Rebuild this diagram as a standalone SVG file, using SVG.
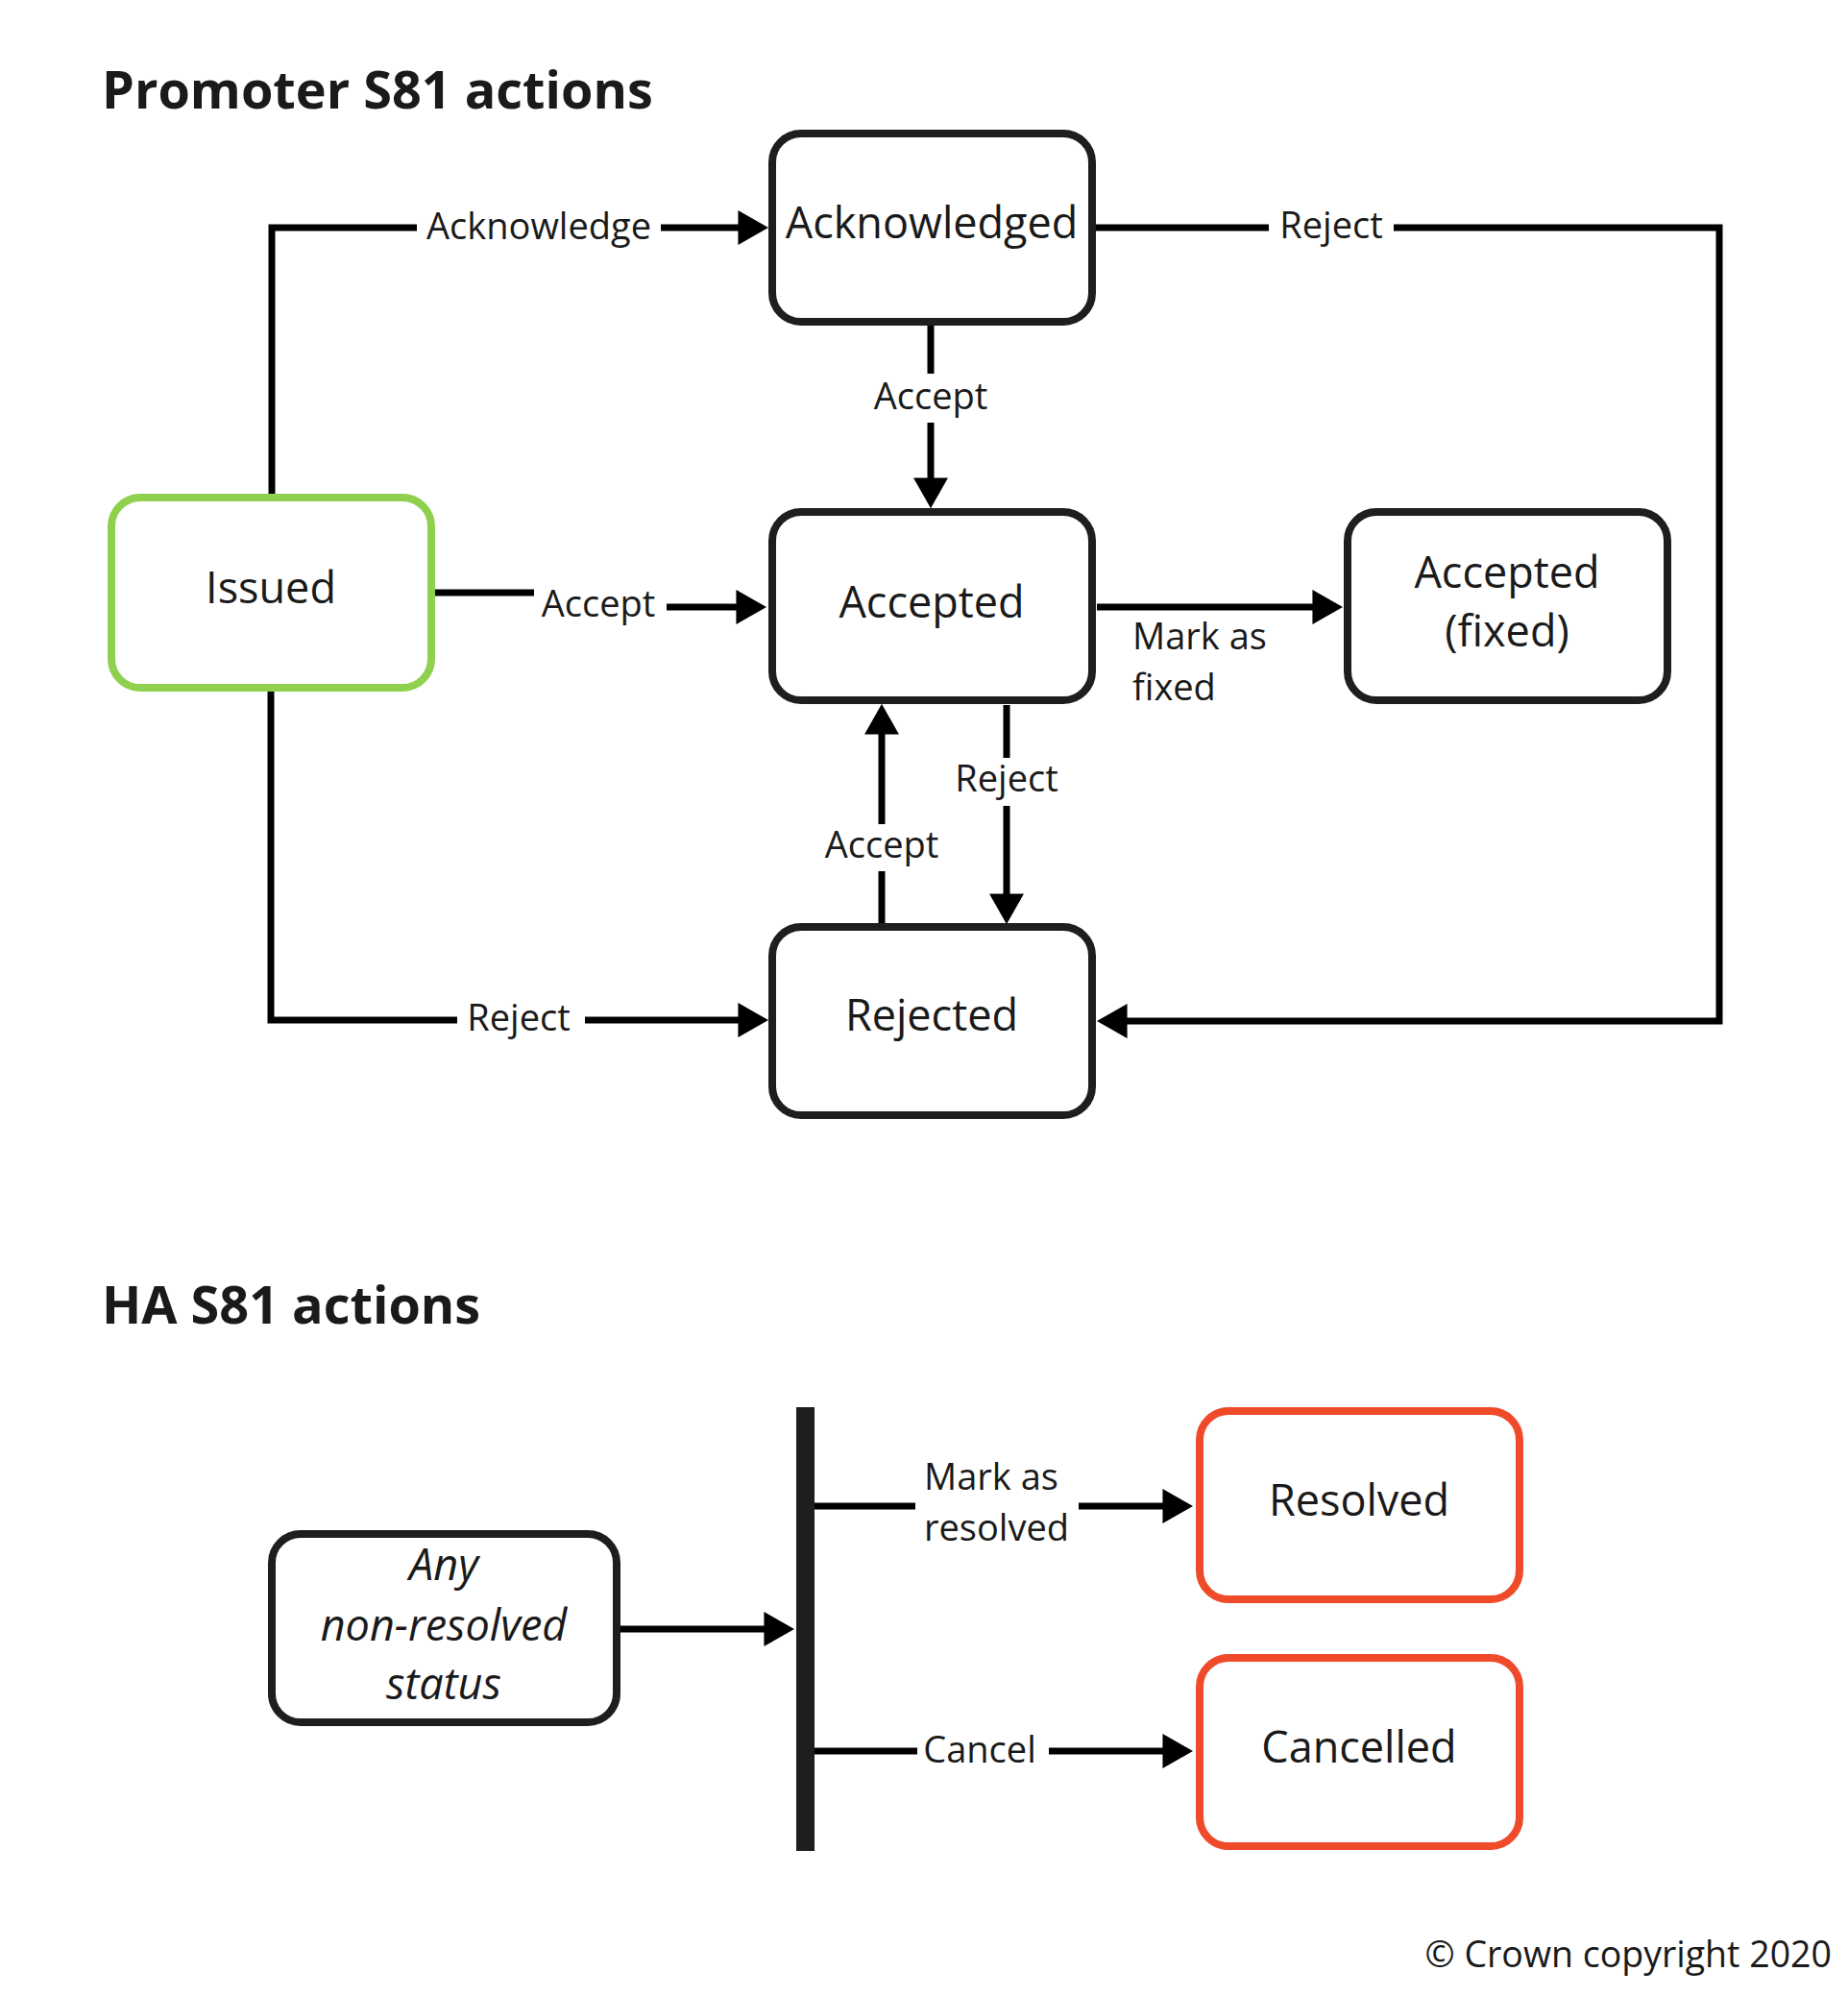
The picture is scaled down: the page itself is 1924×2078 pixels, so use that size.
<svg xmlns="http://www.w3.org/2000/svg" width="1924" height="2078" viewBox="0 0 1924 2078">
<style>
text{font-family:"Open Sans","DejaVu Sans",sans-serif;fill:#1a1a1a}
.title{font-size:54px;font-weight:700}
.node{font-size:45px;text-anchor:middle}
.it{font-style:italic}
.lbl{font-size:38px}
.mid{text-anchor:middle}
.box{fill:#fff;stroke:#1e1e1e;stroke-width:8}
.green{stroke:#8fd14f}
.red{stroke:#ef4a2a}
.conn path{fill:none;stroke:#000;stroke-width:7;marker-end:url(#arr)}
.bg{fill:#fff}
.copy{font-size:37.5px;text-anchor:end}
</style>
<defs>
<marker id="arr" markerUnits="userSpaceOnUse" markerWidth="32" markerHeight="36" viewBox="0 0 30 34" refX="10" refY="17" orient="auto">
<path d="M0,0 L30,17 L0,34 z" fill="#000"/>
</marker>
</defs>
<rect width="1924" height="2078" fill="#fff"/>
<text class="title" x="106" y="113">Promoter S81 actions</text>
<text class="title" x="106" y="1378">HA S81 actions</text>

<g id="connectors" class="conn">
<path d="M283,514 V237 H779"/>
<path d="M1140,237 H1790 V1063 H1163"/>
<path d="M969,338 V508"/>
<path d="M452,617 H625 V632 H777"/>
<path d="M1142,632 H1377"/>
<path d="M1048,734 V941"/>
<path d="M918,961 V754"/>
<path d="M282,720 V1062 H779"/>
<path d="M645,1696 H806"/>
<path d="M848,1568 H1221"/>
<path d="M848,1823 H1221"/>
<rect x="829" y="1465" width="19" height="462" fill="#1e1e1e"/>
</g>

<g id="labels">
<rect class="bg" x="434" y="218" width="254" height="44"/>
<text class="lbl mid" x="561" y="249">Acknowledge</text>
<rect class="bg" x="1321" y="218" width="130" height="44"/>
<text class="lbl mid" x="1386" y="248">Reject</text>
<rect class="bg" x="915" y="389" width="108" height="51"/>
<text class="lbl mid" x="969" y="426">Accept</text>
<rect class="bg" x="556" y="598" width="138" height="57"/>
<text class="lbl mid" x="623" y="642">Accept</text>
<text class="lbl" x="1179" y="676">Mark as</text>
<text class="lbl" x="1179" y="729">fixed</text>
<rect class="bg" x="996" y="789" width="104" height="50"/>
<text class="lbl mid" x="1048" y="824">Reject</text>
<rect class="bg" x="864" y="858" width="108" height="49"/>
<text class="lbl mid" x="918" y="893">Accept</text>
<rect class="bg" x="476" y="1040" width="133" height="45"/>
<text class="lbl mid" x="540" y="1073">Reject</text>
<rect class="bg" x="953" y="1515" width="170" height="100"/>
<text class="lbl" x="962" y="1551">Mark as</text>
<text class="lbl" x="962" y="1604">resolved</text>
<rect class="bg" x="955" y="1800" width="137" height="45"/>
<text class="lbl mid" x="1020" y="1835">Cancel</text>
</g>

<g id="node-acknowledged">
<rect class="box" x="804" y="139" width="333" height="196" rx="30"/>
<text class="node" x="970" y="248">Acknowledged</text>
</g>
<g id="node-issued">
<rect class="box green" x="116" y="518" width="333" height="198" rx="30"/>
<text class="node" x="282" y="628">Issued</text>
</g>
<g id="node-accepted">
<rect class="box" x="804" y="533" width="333" height="196" rx="30"/>
<text class="node" x="970" y="643">Accepted</text>
</g>
<g id="node-accepted-fixed">
<rect class="box" x="1403" y="533" width="333" height="196" rx="30"/>
<text class="node" x="1569" y="612">Accepted</text>
<text class="node" x="1569" y="673">(fixed)</text>
</g>
<g id="node-rejected">
<rect class="box" x="804" y="965" width="333" height="196" rx="30"/>
<text class="node" x="970" y="1073">Rejected</text>
</g>
<g id="node-any">
<rect class="box" x="283" y="1597" width="359" height="196" rx="30"/>
<text class="node it" x="462" y="1645">Any</text>
<text class="node it" x="462" y="1708">non-resolved</text>
<text class="node it" x="462" y="1769">status</text>
</g>
<g id="node-resolved">
<rect class="box red" x="1249" y="1469" width="333" height="196" rx="30"/>
<text class="node" x="1415" y="1578">Resolved</text>
</g>
<g id="node-cancelled">
<rect class="box red" x="1249" y="1726" width="333" height="196" rx="30"/>
<text class="node" x="1415" y="1835">Cancelled</text>
</g>

<text class="copy" x="1907" y="2048">© Crown copyright 2020</text>
</svg>
